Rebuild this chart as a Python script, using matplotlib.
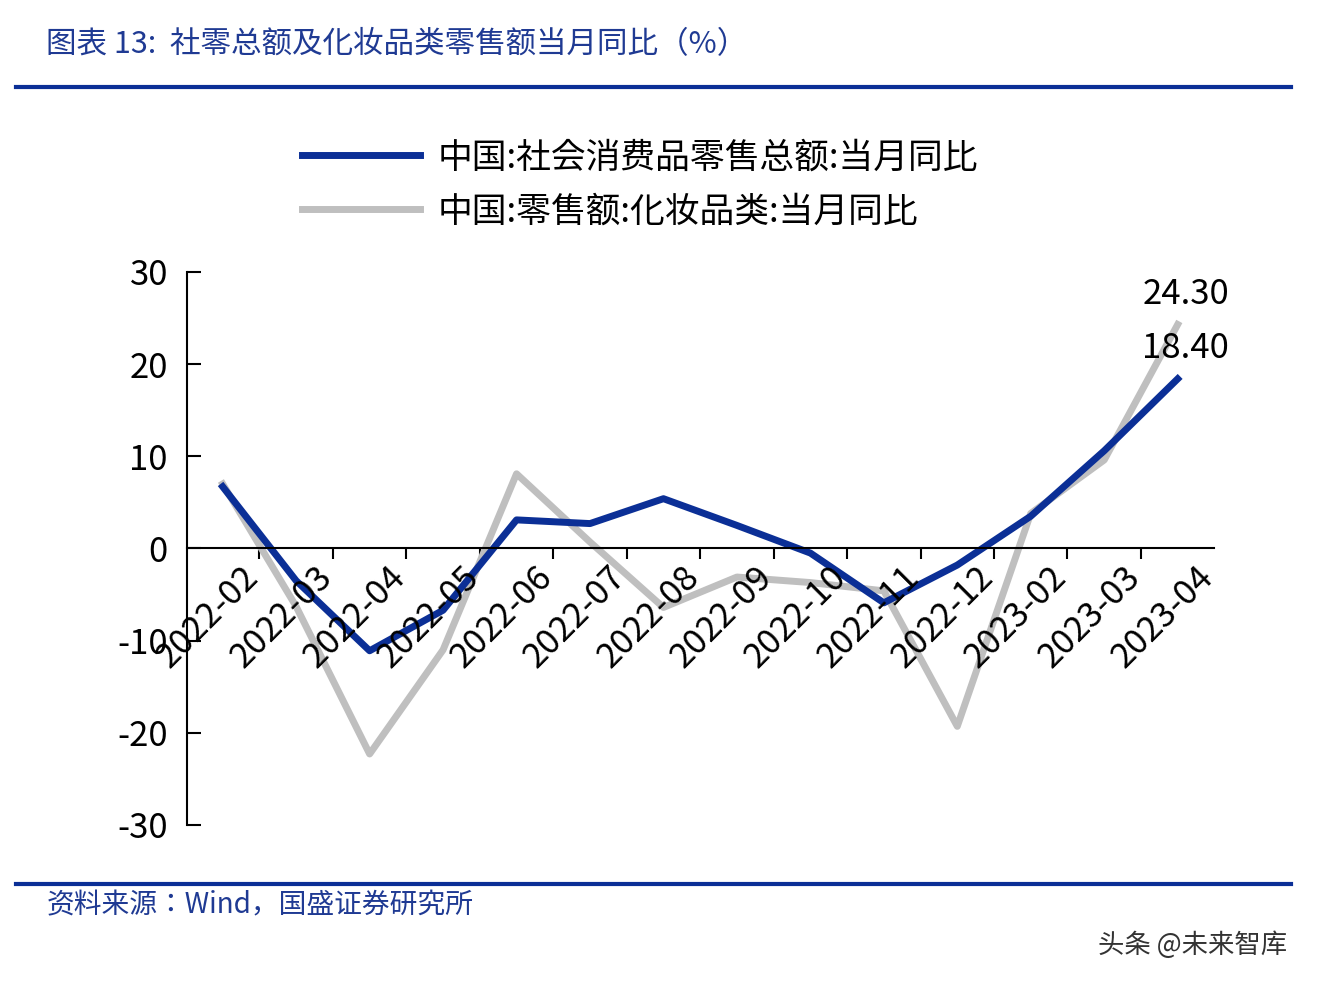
import matplotlib
matplotlib.use("Agg")
import matplotlib.pyplot as plt
from matplotlib.lines import Line2D
from matplotlib import font_manager as fm
import glob

cjk_name = None
for f in fm.fontManager.ttflist:
    if "CJK" in f.name and ("SC" in f.name or cjk_name is None):
        cjk_name = f.name
if cjk_name is None:
    for p in glob.glob("/usr/share/fonts/**/*CJK*", recursive=True):
        fm.fontManager.addfont(p)
    cands = [f.name for f in fm.fontManager.ttflist if "CJK" in f.name]
    cjk_name = cands[0] if cands else "DejaVu Sans"
plt.rcParams["font.family"] = [cjk_name, "DejaVu Sans"]

categories = ["2022-02","2022-03","2022-04","2022-05","2022-06","2022-07","2022-08",
              "2022-09","2022-10","2022-11","2022-12","2023-02","2023-03","2023-04"]
retail_total = [6.7, -3.5, -11.1, -6.7, 3.1, 2.7, 5.4, 2.5, -0.5, -5.9, -1.8, 3.5, 10.6, 18.4]
cosmetics = [7.0, -6.3, -22.3, -11.0, 8.1, 0.7, -6.4, -3.1, -3.7, -4.6, -19.3, 3.8, 9.6, 24.3]
yticks = [30, 20, 10, 0, -10, -20, -30]

fig = plt.figure(figsize=(13.2, 9.9), dpi=100)
ax = fig.add_axes([0.142, 0.1667, 0.778, 0.5586])
x = list(range(len(categories)))
ax.plot(x, cosmetics, color="#BFBFBF", lw=5)
ax.plot(x, retail_total, color="#0B2F96", lw=5)
ax.set_xlim(-0.48, len(categories) - 0.5)
ax.set_ylim(-30, 30)
ax.set_yticks(yticks)
ax.set_yticklabels([str(v) for v in yticks], fontsize=25)
ax.tick_params(axis="y", direction="in", length=10, width=1.5, pad=14)
for s in ["top", "right"]:
    ax.spines[s].set_visible(False)
ax.spines["left"].set_linewidth(1.5)
ax.spines["bottom"].set_position(("data", 0))
ax.spines["bottom"].set_linewidth(1.5)
ax.set_xticks([i + 0.5 for i in x[:-1]])
ax.set_xticklabels([])
ax.tick_params(axis="x", direction="out", length=8, width=1.5)
for i, c in enumerate(categories):
    ax.text(i + 0.25, -1.2, c, rotation=45, ha="right", va="top", fontsize=25,
            rotation_mode="anchor")
ax.text(13.7, 24.3 + 3.2, f"{cosmetics[-1]:.2f}", ha="right", va="center", fontsize=25)
ax.text(13.7, 24.3 - 2.6, f"{retail_total[-1]:.2f}", ha="right", va="center", fontsize=25)

handles = [Line2D([], [], color="#0B2F96", lw=5), Line2D([], [], color="#BFBFBF", lw=5)]
fig.legend(handles, ["中国:社会消费品零售总额:当月同比", "中国:零售额:化妆品类:当月同比"],
           loc="upper left", bbox_to_anchor=(0.205, 0.89), frameon=False, fontsize=25,
           handlelength=3.4, handletextpad=0.5, labelspacing=0.55)

fig.text(0.035, 0.955, "图表 13:  社零总额及化妆品类零售额当月同比（%）", color="#1F3A93",
         fontsize=22, style="italic", va="center")
fig.add_artist(Line2D([0.012, 0.978], [0.912, 0.912], color="#0B2F96", lw=3))
fig.add_artist(Line2D([0.012, 0.978], [0.107, 0.107], color="#0B2F96", lw=3))
fig.text(0.035, 0.085, "资料来源：Wind，国盛证券研究所", color="#1F3A93", fontsize=20,
         style="italic", va="center")
fig.text(0.975, 0.045, "头条 @未来智库", color="#333333", fontsize=19, ha="right", va="center")
fig.savefig("out.png", dpi=100)
